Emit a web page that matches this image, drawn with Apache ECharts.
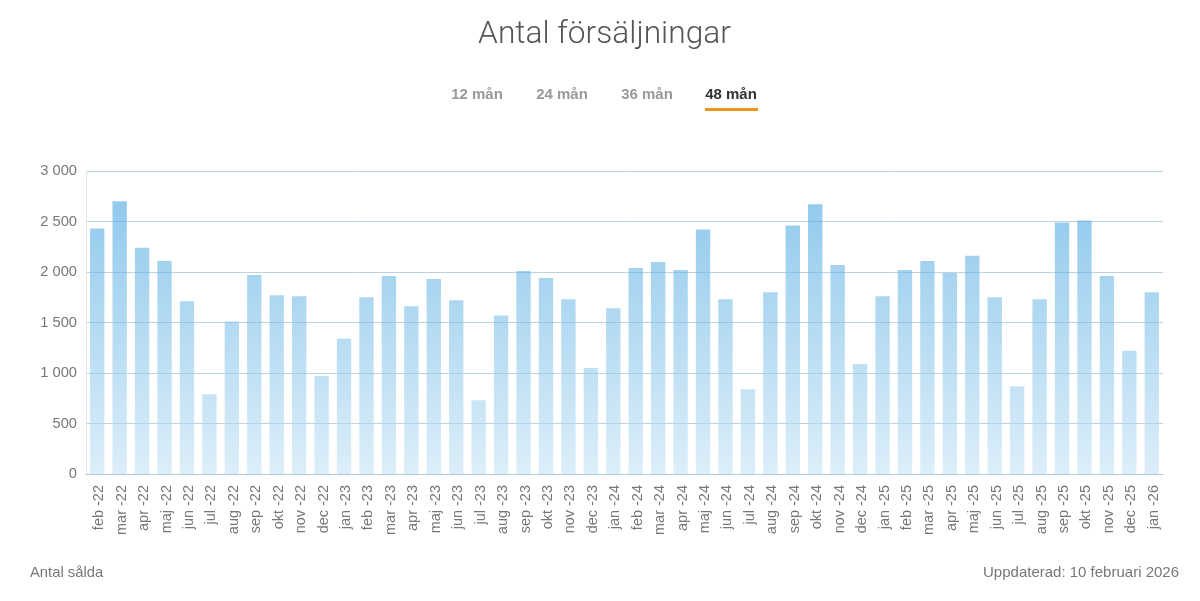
<!DOCTYPE html>
<html>
<head>
<meta charset="utf-8">
<script src="https://cdn.jsdelivr.net/npm/echarts@6/dist/echarts.min.js"></script>
<style>
    html, body { margin: 0; padding: 0; background: #fff; }
    #chart { width: 1200px; height: 601px; }
</style>
</head>
<body>
<div id="chart"></div>
<script>
const months = [
    'feb -22', 'mar -22', 'apr -22', 'maj -22', 'jun -22', 'jul -22', 'aug -22', 'sep -22',
    'okt -22', 'nov -22', 'dec -22', 'jan -23', 'feb -23', 'mar -23', 'apr -23', 'maj -23',
    'jun -23', 'jul -23', 'aug -23', 'sep -23', 'okt -23', 'nov -23', 'dec -23', 'jan -24',
    'feb -24', 'mar -24', 'apr -24', 'maj -24', 'jun -24', 'jul -24', 'aug -24', 'sep -24',
    'okt -24', 'nov -24', 'dec -24', 'jan -25', 'feb -25', 'mar -25', 'apr -25', 'maj -25',
    'jun -25', 'jul -25', 'aug -25', 'sep -25', 'okt -25', 'nov -25', 'dec -25', 'jan -26'
]
const sold = [
    2430, 2700, 2240, 2110, 1710, 790, 1510, 1970,
    1770, 1760, 970, 1340, 1750, 1960, 1660, 1930,
    1720, 730, 1570, 2010, 1940, 1730, 1050, 1640,
    2040, 2100, 2020, 2420, 1730, 840, 1800, 2460,
    2670, 2070, 1090, 1760, 2020, 2110, 1990, 2160,
    1750, 870, 1730, 2490, 2510, 1960, 1220, 1800
]
const tabs = ['12 mån', '24 mån', '36 mån', '48 mån']
const tabCenters = [477, 562, 647, 731]
const activeTab = 3

const font = '"Liberation Sans", Arial, sans-serif'
const chart = echarts.init(document.getElementById('chart'), null, { renderer: 'canvas' })

const tabElements = tabs.map((label, i) => ({
    type: 'text',
    x: tabCenters[i],
    y: 95,
    style: {
        text: label,
        fontFamily: font,
        fontSize: 15,
        fontWeight: 'bold',
        fill: i === activeTab ? '#333333' : '#999999',
        align: 'center',
        verticalAlign: 'middle'
    }
}))

chart.setOption({
    animation: false,
    backgroundColor: '#ffffff',
    title: {
        text: 'Antal försäljningar',
        left: 599.5,
        top: 14,
        textAlign: 'center',
        textStyle: {
            fontFamily: 'Roboto, "Liberation Sans", sans-serif',
            fontSize: 31.7,
            fontWeight: 300,
            color: '#555555'
        }
    },
    grid: { left: 86, right: 37, top: 171, bottom: 127 },
    xAxis: {
        type: 'category',
        data: months,
        axisTick: { show: false },
        axisLine: { lineStyle: { color: '#a9cbe0', width: 1 } },
        axisLabel: {
            rotate: 90,
            interval: 0,
            margin: 11,
            // small line box nudges the rotated text onto the bar centre
            verticalAlign: 'top',
            lineHeight: 4,
            fontFamily: font,
            fontSize: 14.5,
            color: '#777777'
        }
    },
    yAxis: {
        type: 'value',
        min: 0,
        max: 3000,
        interval: 500,
        axisLine: { show: true, lineStyle: { color: '#e6e6e6', width: 1 } },
        axisTick: { show: false },
        splitLine: { lineStyle: { color: '#bcd3e3', width: 1 } },
        axisLabel: {
            margin: 9,
            fontFamily: font,
            fontSize: 14.7,
            color: '#777777',
            formatter: v => String(v).replace(/\B(?=(\d{3})+$)/g, ' ')
        }
    },
    series: [{
        name: 'Antal sålda',
        type: 'bar',
        data: sold,
        barWidth: '64%',
        itemStyle: {
            // gradient spans the whole plot, so short bars stay pale
            color: {
                type: 'linear',
                global: true,
                x: 0, y: 171, x2: 0, y2: 474,
                colorStops: [
                    { offset: 0, color: 'rgba(60,160,222,0.6)' },
                    { offset: 1, color: 'rgba(197,227,245,0.6)' }
                ]
            }
        }
    }],
    graphic: [
        ...tabElements,
        {
            type: 'rect',
            shape: { x: 705, y: 108, width: 53, height: 3 },
            style: { fill: '#e8961e' }
        },
        {
            type: 'text',
            x: 30,
            y: 573,
            style: {
                text: 'Antal sålda',
                fontFamily: font,
                fontSize: 14.8,
                fill: '#777777',
                verticalAlign: 'middle'
            }
        },
        {
            type: 'text',
            x: 1179,
            y: 573,
            style: {
                text: 'Uppdaterad: 10 februari 2026',
                fontFamily: font,
                fontSize: 15,
                fill: '#777777',
                align: 'right',
                verticalAlign: 'middle'
            }
        }
    ]
})
</script>
</body>
</html>
